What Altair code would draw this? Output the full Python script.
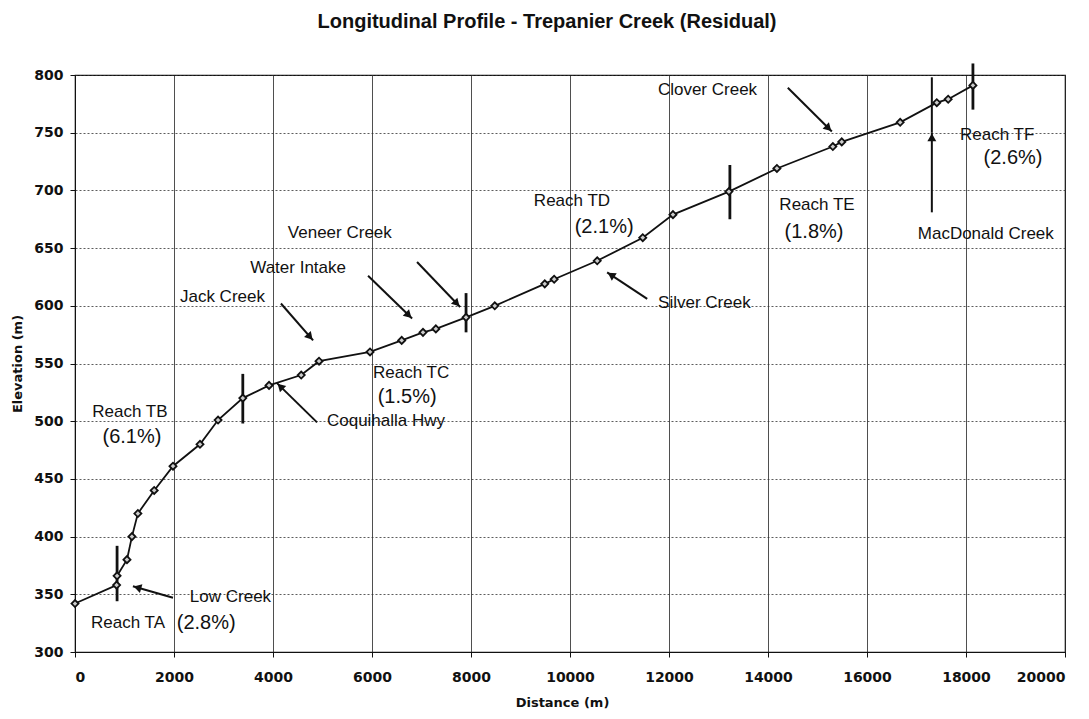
import math
import altair as alt
import pandas as pd

# ---- data ----
distance = [0, 840, 850, 1050, 1150, 1270, 1600, 1980, 2525, 2890, 3390, 3920, 4570, 4930,
            5960, 6600, 7030, 7290, 7900, 8480, 9490, 9680, 10550, 11470, 12080, 13210,
            14180, 15310, 15490, 16670, 17410, 17640, 18140]
elevation = [342, 358, 366, 380, 400, 420, 440, 461, 480, 501, 520, 531, 540, 552,
             560, 570, 577, 580, 590, 600, 619, 623, 639, 659, 679, 699,
             719, 738, 742, 759, 776, 779, 791]

# reach boundary markers: distance, bottom elevation, top elevation
reach_x = [850, 3390, 7900, 13230, 18140]
reach_lo = [344, 498, 577, 675, 770]
reach_hi = [392, 541, 611, 722, 810]

# text labels
lab_text = ["Reach TA", "(2.8%)", "Low Creek", "Reach TB", "(6.1%)", "Coquihalla Hwy",
            "Reach TC", "(1.5%)", "Jack Creek", "Water Intake", "Veneer Creek",
            "Reach TD", "(2.1%)", "Silver Creek", "Clover Creek", "Reach TE", "(1.8%)",
            "MacDonald Creek", "Reach TF", "(2.6%)"]
lab_x = [1070, 2650, 2320, 1110, 1150, 5090, 6790, 6710, 2120, 3540, 4300,
         10040, 10690, 11780, 13780, 14990, 14930, 18400, 18630, 18950]
lab_y = [325, 325, 348, 508, 486, 500, 542, 521, 608, 633, 663,
         691, 668, 602, 787, 687, 664, 662, 748, 728]
lab_align = ["center", "center", "left", "center", "center", "left", "center", "center",
             "left", "left", "left", "center", "center", "left", "right", "center",
             "center", "center", "center", "center"]
lab_size = [17, 20, 17, 17, 20, 17, 17, 20, 17, 17, 17, 17, 20, 17, 17, 17, 20, 17, 17, 20]

# arrows: tail -> head
arr_x1 = [1980, 4890, 4160, 5920, 6910, 11560, 14400, 17310]
arr_y1 = [347, 499, 602, 626, 638, 606, 789, 681]
arr_x2 = [1170, 4080, 4810, 6810, 7780, 10750, 15290, 17310]
arr_y2 = [357, 533, 570, 589, 599, 629, 751, 750]
# MacDonald guide line continues to the top
mac_x = [17310]
mac_lo = [750]
mac_hi = [798]

W, H = 990, 577
XMAX, YMIN, YMAX = 20000, 300, 800
sx = W / XMAX
sy = H / (YMAX - YMIN)

prof = pd.DataFrame({"d": distance, "e": elevation})
reach = pd.DataFrame({"d": reach_x, "lo": reach_lo, "hi": reach_hi})
labels = pd.DataFrame({"d": lab_x, "e": lab_y, "t": lab_text, "a": lab_align, "s": lab_size})

rows = []
for x1, y1, x2, y2 in zip(arr_x1, arr_y1, arr_x2, arr_y2):
    dxp = (x2 - x1) * sx
    dyp = -(y2 - y1) * sy
    L = math.hypot(dxp, dyp)
    ux, uy = dxp / L, dyp / L
    ang = math.degrees(math.atan2(dxp, -dyp)) % 360
    back = 6.0
    hx = x2 - ux * back / sx
    hy = y2 + uy * back / sy
    rows.append({"x1": x1, "y1": y1, "x2": x2, "y2": y2, "hx": hx, "hy": hy, "ang": ang})
arrows = pd.DataFrame(rows)
mac = pd.DataFrame({"d": mac_x, "lo": mac_lo, "hi": mac_hi})

FONT = "Liberation Sans"
AXFONT = "DejaVu Sans"

xs = alt.Scale(domain=[0, XMAX], nice=False, zero=False)
ys = alt.Scale(domain=[YMIN, YMAX], nice=False, zero=False)

xax = alt.Axis(values=list(range(0, 20001, 2000)), format="d", title="Distance (m)",
               grid=True, gridColor="#222", gridWidth=0.8, labelFont=AXFONT,
               labelFontWeight="bold", labelFontSize=14, labelColor="#111",
               titleFont=AXFONT, titleFontWeight="bold", titleFontSize=13, titleColor="#111",
               tickColor="#111", domainColor="#111", tickSize=5, labelPadding=13,
               titlePadding=12, titleX=487)
yax = alt.Axis(values=list(range(300, 801, 50)), format="d", title="Elevation (m)",
               grid=True, gridColor="#333", gridWidth=0.8, gridDash=[2, 2], labelFont=AXFONT,
               labelFontWeight="bold", labelFontSize=14, labelColor="#111",
               titleFont=AXFONT, titleFontWeight="bold", titleFontSize=13, titleColor="#111",
               tickColor="#111", domainColor="#111", tickSize=5, labelPadding=7,
               titlePadding=9)

line = alt.Chart(prof).mark_line(color="#111", strokeWidth=1.8).encode(
    x=alt.X("d:Q", scale=xs, axis=xax),
    y=alt.Y("e:Q", scale=ys, axis=yax),
)
pts = alt.Chart(prof).mark_point(shape="diamond", filled=True, fill="#ccc", stroke="#111",
                                 strokeWidth=1.8, size=50, opacity=1).encode(
    x=alt.X("d:Q", scale=xs), y=alt.Y("e:Q", scale=ys))

reach_rules = alt.Chart(reach).mark_rule(color="#111", strokeWidth=2.8, clip=False).encode(
    x=alt.X("d:Q", scale=xs), y=alt.Y("lo:Q", scale=ys), y2="hi:Q")

arrow_lines = alt.Chart(arrows).mark_rule(color="#111", strokeWidth=2).encode(
    x=alt.X("x1:Q", scale=xs), y=alt.Y("y1:Q", scale=ys), x2="x2:Q", y2="y2:Q")
arrow_heads = alt.Chart(arrows).mark_point(shape="triangle", filled=True, color="#111",
                                           size=80, opacity=1).encode(
    x=alt.X("hx:Q", scale=xs), y=alt.Y("hy:Q", scale=ys),
    angle=alt.Angle("ang:Q", scale=None))
mac_line = alt.Chart(mac).mark_rule(color="#111", strokeWidth=2).encode(
    x=alt.X("d:Q", scale=xs), y=alt.Y("lo:Q", scale=ys), y2="hi:Q")

texts = []
for al in ["left", "center", "right"]:
    sub = labels[labels["a"] == al]
    texts.append(alt.Chart(sub).mark_text(font=FONT, color="#111", align=al,
                                          baseline="middle").encode(
        x=alt.X("d:Q", scale=xs), y=alt.Y("e:Q", scale=ys), text="t:N",
        size=alt.Size("s:Q", scale=None)))

chart = alt.layer(line, arrow_lines, mac_line, reach_rules, pts, arrow_heads, *texts).properties(
    width=W, height=H,
    autosize=alt.AutoSizeParams(type="none"),
    padding={"left": 67, "top": 67, "right": 10, "bottom": 64},
    title=alt.TitleParams("Longitudinal Profile - Trepanier Creek (Residual)", font=FONT,
                          fontSize=20, fontWeight="bold", color="#111", anchor="middle",
                          offset=30, dx=-23),
    background="white",
).configure_view(stroke="#111", strokeWidth=1.2)

chart.save("out.html", embed_options={"renderer": "svg", "actions": False})
